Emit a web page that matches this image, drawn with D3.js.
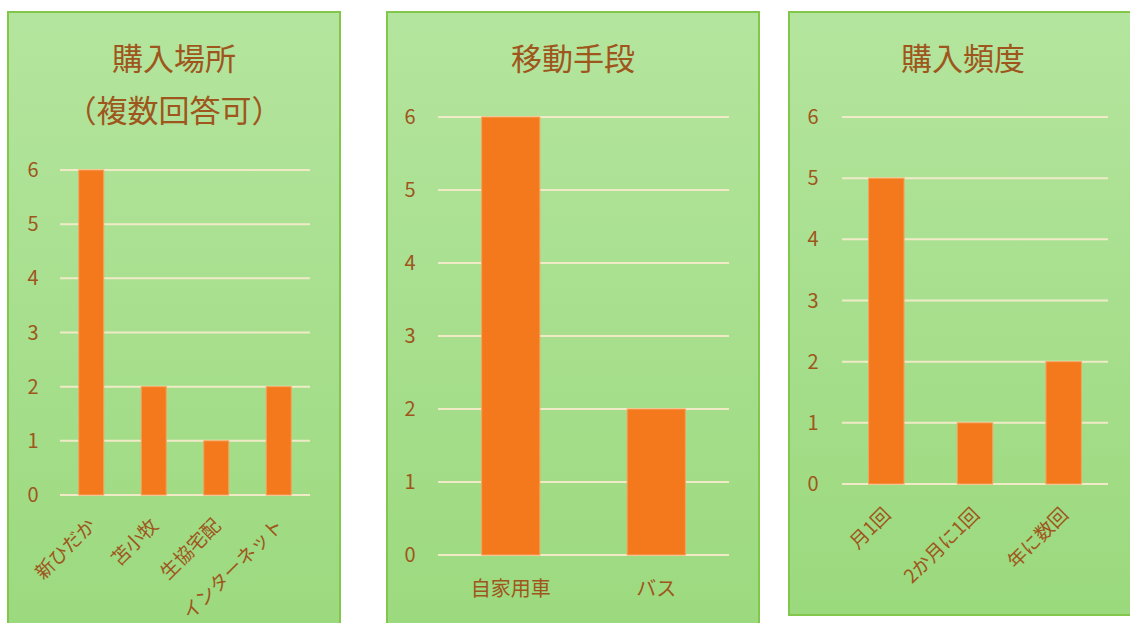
<!DOCTYPE html>
<html><head><meta charset="utf-8">
<script src="https://cdn.jsdelivr.net/npm/d3@7"></script>
<style>html,body{margin:0;padding:0;background:#fff;}svg{display:block;}</style>
</head><body>
<script>
// Data
const placeCategories = ["新ひだか", "苫小牧", "生協宅配", "インターネット"];
const placeValues = [6, 2, 1, 2];
const transportCategories = ["自家用車", "バス"];
const transportValues = [6, 2];
const freqCategories = ["月1回", "2か月に1回", "年に数回"];
const freqValues = [5, 1, 2];
const yTicks = [0, 1, 2, 3, 4, 5, 6];
const titles = [["購入場所", "（複数回答可）"], ["移動手段"], ["購入頻度"]];

const W = 1130, H = 623;
const FONT = "'Noto Sans CJK JP', 'Noto Sans', sans-serif";
const TXT = "#9e561c";
const svg = d3.select("body").append("svg").attr("width", W).attr("height", H);
const defs = svg.append("defs");
const grad = defs.append("linearGradient").attr("id", "bg").attr("x1", 0).attr("y1", 0).attr("x2", 0).attr("y2", 1);
grad.append("stop").attr("offset", "0%").attr("stop-color", "#b4e59e");
grad.append("stop").attr("offset", "100%").attr("stop-color", "#9bd97d");

const panels = [
  {box:[8, 12, 332, 640], cats: placeCategories, vals: placeValues, title: titles[0],
   plot:{x0:60, x1:310, yTop:170, yBot:495}, tickX:33, rotate:true, titleY:[59, 111]},
  {box:[387, 12, 372, 640], cats: transportCategories, vals: transportValues, title: titles[1],
   plot:{x0:438, x1:729, yTop:117, yBot:555}, tickX:410, rotate:false, titleY:[59]},
  {box:[789, 12, 348, 603], cats: freqCategories, vals: freqValues, title: titles[2],
   plot:{x0:842, x1:1108, yTop:117, yBot:484}, tickX:813, rotate:true, titleY:[59]}
];

panels.forEach(p => {
  const g = svg.append("g");
  const [bx, by, bw, bh] = p.box;
  g.append("rect").attr("x", bx).attr("y", by).attr("width", bw).attr("height", bh)
    .attr("fill", "url(#bg)").attr("stroke", "#82c64c").attr("stroke-width", 2);
  const cx = bx + bw / 2;
  p.title.forEach((t, i) => {
    g.append("text").attr("x", cx).attr("y", p.titleY[i]).attr("dy", "0.35em")
      .attr("text-anchor", "middle").attr("font-family", FONT).attr("font-size", 31)
      .attr("fill", TXT).text(t);
  });
  const y = d3.scaleLinear().domain([0, 6]).range([p.plot.yBot, p.plot.yTop]);
  const x = d3.scaleBand().domain(p.cats).range([p.plot.x0, p.plot.x1]).paddingInner(0.6).paddingOuter(0.3);
  g.selectAll(".grid").data(yTicks).join("line")
    .attr("x1", p.plot.x0).attr("x2", p.plot.x1)
    .attr("y1", d => y(d)).attr("y2", d => y(d))
    .attr("stroke", "#f0ebc6").attr("stroke-width", 2);
  g.selectAll(".tk").data(yTicks).join("text")
    .attr("x", p.tickX).attr("y", d => y(d)).attr("dy", "0.35em")
    .attr("text-anchor", "middle").attr("font-family", FONT).attr("font-size", 20)
    .attr("fill", TXT).text(d => d);
  g.selectAll(".bar").data(p.cats.map((c, i) => ({c, v: p.vals[i]}))).join("rect")
    .attr("x", d => x(d.c)).attr("width", x.bandwidth())
    .attr("y", d => y(d.v)).attr("height", d => y(0) - y(d.v))
    .attr("fill", "#f4791c").attr("stroke", "#f6a462").attr("stroke-width", 1);
  if (p.rotate) {
    g.selectAll(".cl").data(p.cats).join("text")
      .attr("transform", d => `translate(${x(d) + x.bandwidth()/2 + 1},${p.plot.yBot + 27}) rotate(-45)`)
      .attr("text-anchor", "end").attr("dy", "0.35em")
      .attr("font-family", FONT).attr("font-size", 19).attr("fill", TXT).text(d => d);
  } else {
    g.selectAll(".cl").data(p.cats).join("text")
      .attr("x", d => x(d) + x.bandwidth()/2).attr("y", p.plot.yBot + 34).attr("dy", "0.35em")
      .attr("text-anchor", "middle")
      .attr("font-family", FONT).attr("font-size", 20).attr("fill", TXT).text(d => d);
  }
});
</script>
</body></html>
